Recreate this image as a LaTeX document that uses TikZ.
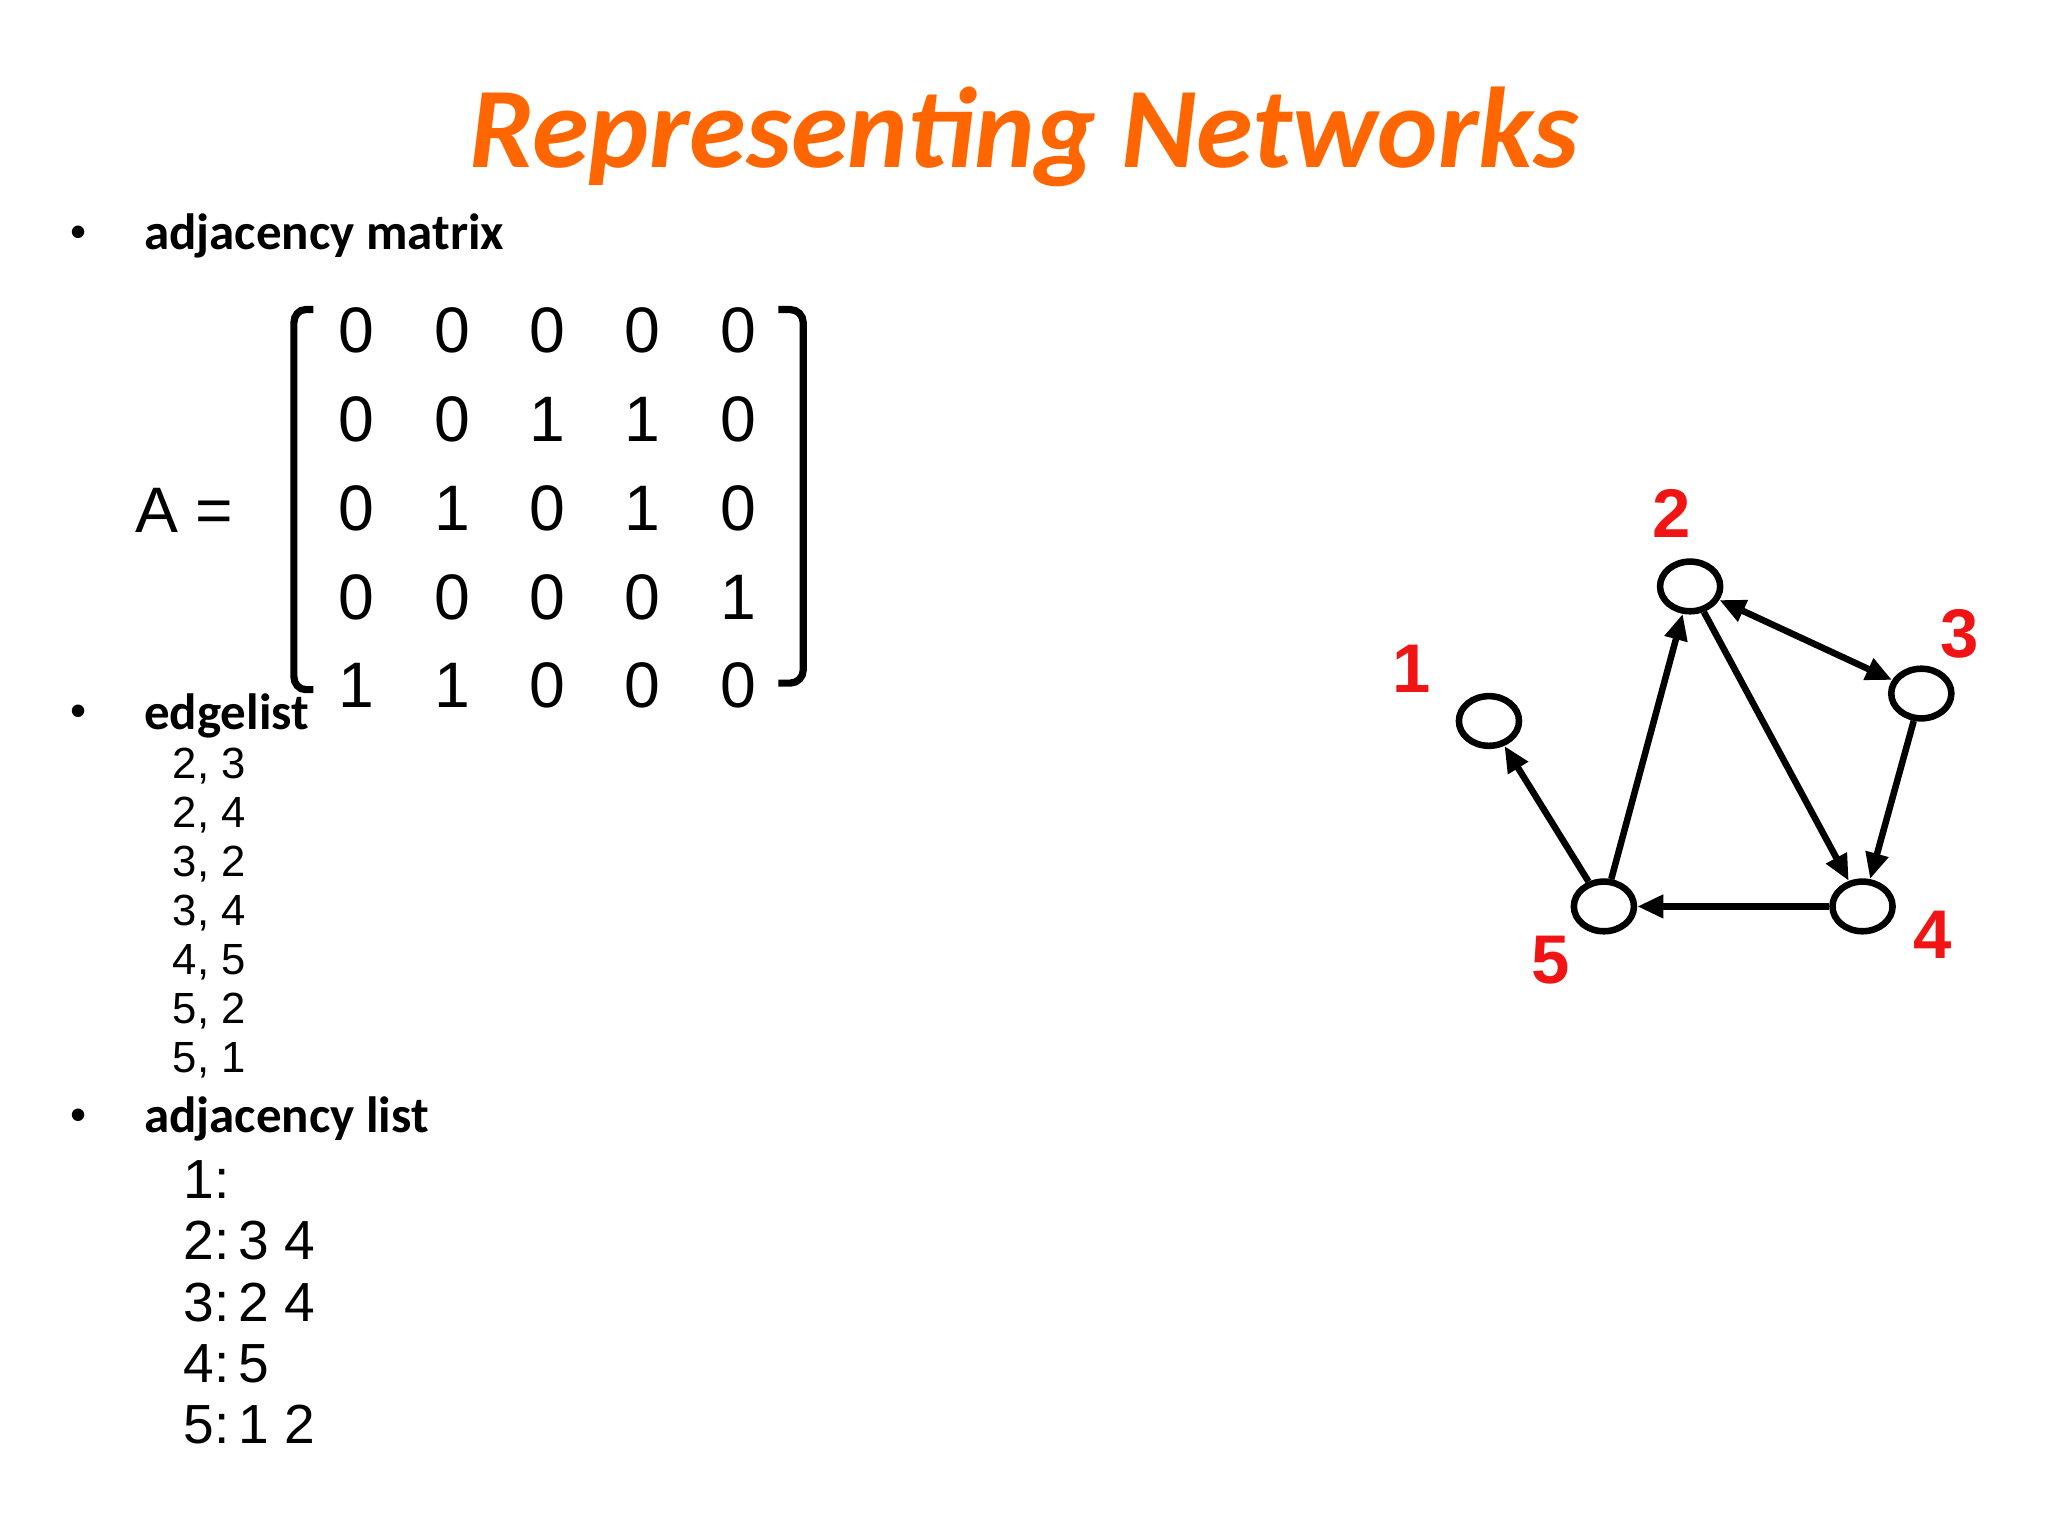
\documentclass[tikz,border=0pt]{standalone}
\usepackage{fontspec}
\setmainfont{Liberation Sans}
\newfontfamily\carl{Carlito}
\usetikzlibrary{arrows.meta,shapes.geometric}
\definecolor{ttl}{RGB}{255,102,0}
\definecolor{lbl}{RGB}{240,20,20}
\begin{document}
\begin{tikzpicture}[x=0.01cm,y=-0.01cm,
  vtx/.style={draw,line width=0.05cm,ellipse,minimum width=0.46cm,minimum height=0.38cm,inner sep=0},
  edg/.style={line width=0.05cm,-{Triangle[length=0.2cm,width=0.17cm]}},
  num/.style={font=\fontsize{14}{16}\selectfont},
  hd/.style={anchor=west,font=\carl\bfseries\fontsize{11.1}{12}\selectfont},
  el/.style={anchor=west,font=\fontsize{9.5}{11}\selectfont},
  al/.style={anchor=west,font=\fontsize{12}{14}\selectfont},
  rl/.style={text=lbl,font=\bfseries\fontsize{15}{17}\selectfont}]
\fill[white] (0,0) rectangle (1568,1176);
\node[text=ttl,font=\carl\bfseries\itshape\fontsize{25}{30}\selectfont] (title) at (784,105) {Representing Networks};
\foreach \y/\n in {181/b1,548/b2,857/b3} \node[font=\fontsize{10}{12}\selectfont] (\n) at (60,\y) {•};
\node[hd] (h1) at (98,181) {adjacency matrix};
\node[hd] (h2) at (98,548) {edgelist};
\node[hd] (h3) at (98,857) {adjacency list};
\node[num,anchor=west] (A) at (91,391) {A =};
\foreach \r/\row in {1/{0,0,0,0,0},2/{0,0,1,1,0},3/{0,1,0,1,0},4/{0,0,0,0,1},5/{1,1,0,0,0}}{
  \foreach \v [count=\c] in \row {
    \node[num] (m\r\c) at (273+73*\c-73, 253+68*\r-68) {\v};
  }
}
\draw[line width=0.055cm] (240,237) -- (234,237) to[out=180,in=90] (225,247) -- (225,518) to[out=-90,in=180] (234,528) -- (240,528);
\draw[line width=0.055cm] (596,237) -- (605,237) to[out=0,in=90] (615,247) -- (615,513) to[out=-90,in=0] (605,523) -- (596,523);
\foreach \t [count=\i] in {{2, 3},{2, 4},{3, 2},{3, 4},{4, 5},{5, 2},{5, 1}}
  \node[el] (e\i) at (120,549+37.5*\i) {\t};
\foreach \t [count=\i] in {{1:},{2:\,3 4},{3:\,2 4},{4:\,5},{5:\,1 2}}
  \node[al] (l\i) at (128,856+47*\i) {\t};
\node[vtx] (n1) at (1140,552) {};
\node[vtx] (n2) at (1294,449) {};
\node[vtx] (n3) at (1471,531) {};
\node[vtx] (n4) at (1426,694) {};
\node[vtx] (n5) at (1228,694) {};
\node[rl] (t1) at (1081,512) {1};
\node[rl] (t2) at (1280,393) {2};
\node[rl] (t3) at (1500,485) {3};
\node[rl] (t4) at (1480,716) {4};
\node[rl] (t5) at (1187,735) {5};
\draw[edg,{Triangle[length=0.2cm,width=0.17cm]}-{Triangle[length=0.2cm,width=0.17cm]}] (n2) -- (n3);
\draw[edg] (n2) -- (n4);
\draw[edg] (n3) -- (n4);
\draw[edg] (n4) -- (n5);
\draw[edg] (n5) -- (n2);
\draw[edg] (n5) -- (n1);
\end{tikzpicture}
\end{document}
